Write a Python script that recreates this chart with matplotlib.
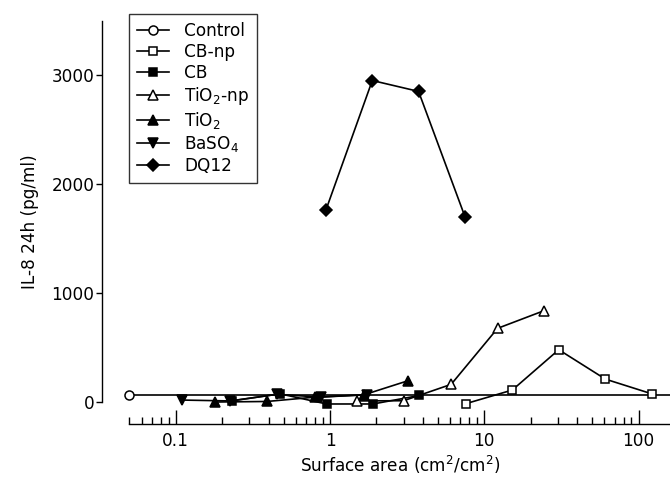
import matplotlib
matplotlib.use("Agg")
import matplotlib.pyplot as plt
from matplotlib.ticker import LogLocator, NullFormatter, FixedLocator, FixedFormatter

# values (surface area, IL-8 pg/ml)
control_x = [0.05]
control_y = [60]
cbnp_x = [7.6, 15.2, 30.4, 61, 122]
cbnp_y = [-15, 110, 480, 210, 75]
cb_x = [0.23, 0.475, 0.95, 1.9, 3.8]
cb_y = [10, 75, -18, -18, 60]
tio2np_x = [1.5, 3.0, 6.1, 12.2, 24.4]
tio2np_y = [10, 12, 162, 676, 838]
tio2_x = [0.18, 0.39, 0.8, 1.65, 3.2]
tio2_y = [0, 5, 45, 65, 195]
baso4_x = [0.11, 0.225, 0.45, 0.88, 1.75]
baso4_y = [18, 10, 70, 45, 68]
dq12_x = [0.94, 1.88, 3.75, 7.5]
dq12_y = [1760, 2950, 2850, 1700]

xticks = [0.1, 1, 10, 100]
xticklabels = ["0.1", "1", "10", "100"]
yticks = [0, 1000, 2000, 3000]

plt.rcParams["font.family"] = "DejaVu Sans"
fs = 12.2

fig = plt.figure(figsize=(6.7, 4.79), dpi=100)
ax = fig.add_axes([0.193, 0.1152, 0.807, 0.843])

lw = 1.2
kw = dict(color="black", lw=lw, markeredgecolor="black", markeredgewidth=1.1)
ax.axhline(control_y[0], color="black", lw=lw, zorder=1)
ax.plot(control_x, control_y, "-o", ms=6.5, markerfacecolor="white", label="Control", clip_on=False, **kw)
ax.plot(cbnp_x, cbnp_y, "-s", ms=6.2, markerfacecolor="white", label="CB-np", **kw)
ax.plot(cb_x, cb_y, "-s", ms=6.2, markerfacecolor="black", label="CB", **kw)
ax.plot(tio2np_x, tio2np_y, "-^", ms=7.2, markerfacecolor="white", label="TiO$_2$-np", **kw)
ax.plot(tio2_x, tio2_y, "-^", ms=7.2, markerfacecolor="black", label="TiO$_2$", **kw)
ax.plot(baso4_x, baso4_y, "-v", ms=7.2, markerfacecolor="black", label="BaSO$_4$", **kw)
ax.plot(dq12_x, dq12_y, "-D", ms=6, markerfacecolor="black", label="DQ12", **kw)

ax.set_xscale("log")
ax.set_xlim(0.05, 160)
ax.set_ylim(-200, 3505)

for s in ["top", "right"]:
    ax.spines[s].set_visible(False)
ax.spines["left"].set_position(("outward", 19.5))
ax.spines["left"].set_bounds(0, 3500)
ax.spines["left"].set_linewidth(1.0)
ax.spines["bottom"].set_linewidth(1.0)

ax.xaxis.set_major_locator(FixedLocator(xticks))
ax.xaxis.set_major_formatter(FixedFormatter(xticklabels))
ax.xaxis.set_minor_locator(LogLocator(base=10, subs=range(2, 10)))
ax.xaxis.set_minor_formatter(NullFormatter())
ax.tick_params(axis="x", which="major", direction="in", length=10, width=1, pad=6, labelsize=fs)
ax.tick_params(axis="x", which="minor", direction="in", length=5, width=1)
ax.set_yticks(yticks)
ax.tick_params(axis="y", direction="out", length=4, width=1, pad=1.5, labelsize=fs)

ax.set_xlabel("Surface area (cm$^2$/cm$^2$)", fontsize=fs, labelpad=3)
ax.set_ylabel("IL-8 24h (pg/ml)", fontsize=fs, labelpad=9)

leg = ax.legend(loc="upper left", bbox_to_anchor=(0.1925, 0.970), bbox_transform=fig.transFigure,
                fontsize=fs, frameon=True, fancybox=False, edgecolor="black", borderaxespad=0,
                handlelength=1.9, handletextpad=0.9, labelspacing=0.18, borderpad=0.45)
leg.get_frame().set_linewidth(1.0)

fig.savefig("out.png", dpi=100)
